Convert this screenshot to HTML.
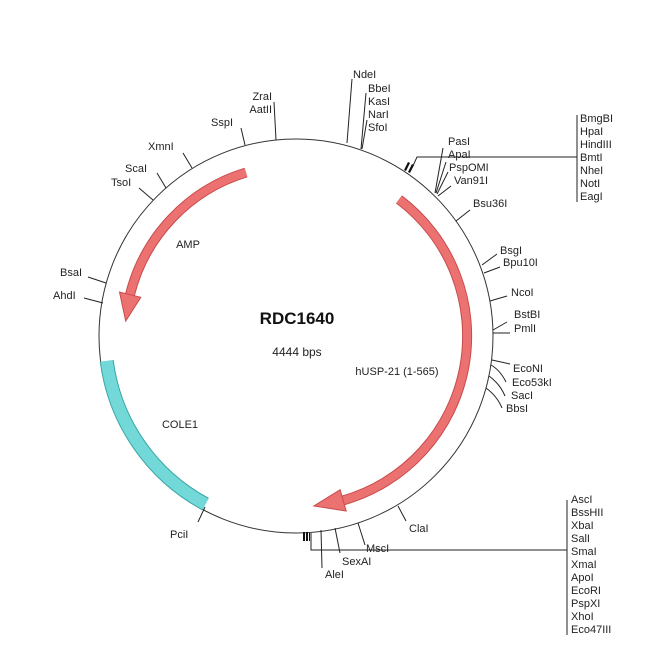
<!DOCTYPE html>
<html><head><meta charset="utf-8"><style>
body{margin:0;background:#fff}
svg{display:block}
text{font-family:"Liberation Sans",sans-serif;font-size:11px;fill:#222}
</style></head><body>
<svg width="650" height="650" viewBox="0 0 650 650">
<rect width="650" height="650" fill="#fff"/>
<circle cx="296" cy="336" r="197" fill="none" stroke="#333" stroke-width="1"/>
<path d="M205.5 504.1 A191 191 0 0 1 106.7 360.9" fill="none" stroke="#3aa7a7" stroke-width="14"/>
<path d="M205.5 504.1 A191 191 0 0 1 106.7 360.9" fill="none" stroke="#72d8d8" stroke-width="12"/>
<path d="M246 172.5 A171 171 0 0 0 130 294.6" fill="none" stroke="#c84b4b" stroke-width="10"/>
<path d="M246 172.5 A171 171 0 0 0 130 294.6" fill="none" stroke="#ec7272" stroke-width="8"/>
<polygon points="140.8,297.3 119.5,292 125.7,321.1" fill="#ec7272" stroke="#c84b4b" stroke-width="1"/>
<path d="M399 199.4 A171 171 0 0 1 343.2 500.4" fill="none" stroke="#c84b4b" stroke-width="10"/>
<path d="M399 199.4 A171 171 0 0 1 343.2 500.4" fill="none" stroke="#ec7272" stroke-width="8"/>
<polygon points="340.1,489.8 346.2,511 313.9,506" fill="#ec7272" stroke="#c84b4b" stroke-width="1"/>

<g stroke="#222" stroke-width="1" fill="none">
<line x1="347" y1="143" x2="352" y2="79"/>
<line x1="361" y1="149" x2="366" y2="93"/>
<line x1="362" y1="149" x2="367" y2="120"/>
<line x1="276" y1="140" x2="274" y2="102"/>
<line x1="245" y1="145" x2="241" y2="128"/>
<line x1="192" y1="168" x2="183" y2="153"/>
<line x1="166" y1="188" x2="157" y2="173"/>
<line x1="153" y1="200" x2="139" y2="188"/>
<line x1="106" y1="283" x2="88" y2="277"/>
<line x1="103" y1="303" x2="84" y2="298"/>
<line x1="205" y1="507" x2="198" y2="522"/>
<line x1="398" y1="506" x2="406" y2="521"/>
<line x1="358" y1="523" x2="365" y2="545"/>
<line x1="335" y1="528" x2="340" y2="553"/>
<line x1="321" y1="530" x2="322" y2="568"/>
<polyline points="311,533 311,550 567,550"/>
<line x1="567" y1="500" x2="567" y2="635"/>
<polyline points="412,168 417,157 577,157"/>
<line x1="577" y1="115" x2="577" y2="202"/>
<line x1="435" y1="193" x2="443" y2="148"/>
<line x1="436" y1="193" x2="446" y2="162"/>
<line x1="437" y1="194" x2="448" y2="172"/>
<line x1="438" y1="196" x2="451" y2="186"/>
<line x1="456" y1="221" x2="470" y2="210"/>
<line x1="482" y1="265" x2="497" y2="254"/>
<line x1="484" y1="273" x2="500" y2="267"/>
<line x1="490" y1="301" x2="507" y2="296"/>
<line x1="493" y1="330" x2="507" y2="322"/>
<line x1="493" y1="333" x2="510" y2="333"/>
<line x1="492" y1="360" x2="510" y2="364"/>
<path d="M491 365 Q500 370 506 382"/>
<path d="M489 376 Q500 384 505 396"/>
<path d="M486 388 Q497 396 502 408"/>
</g>
<g fill="#111">
<rect x="303" y="532" width="2" height="9"/><rect x="306" y="532" width="2" height="9"/><rect x="309" y="533" width="1" height="8"/>
<polygon points="404,170 408,162 410,163 406,171"/><polygon points="408,172 412,164 414,165 410,173"/>
</g>

<text x="353" y="78">NdeI</text>
<text x="368" y="92">BbeI</text><text x="368" y="105">KasI</text><text x="368" y="118">NarI</text><text x="368" y="131">SfoI</text>
<text x="272" y="100" text-anchor="end">ZraI</text><text x="272" y="113" text-anchor="end">AatII</text>
<text x="211" y="126">SspI</text>
<text x="148" y="150">XmnI</text>
<text x="125" y="172">ScaI</text>
<text x="111" y="186">TsoI</text>
<text x="60" y="276">BsaI</text>
<text x="53" y="299">AhdI</text>
<text x="170" y="538">PciI</text>
<text x="409" y="532">ClaI</text>
<text x="366" y="552">MscI</text>
<text x="342" y="565">SexAI</text>
<text x="325" y="578">AleI</text>
<g>
<text x="571" y="503">AscI</text><text x="571" y="516">BssHII</text><text x="571" y="529">XbaI</text><text x="571" y="542">SalI</text><text x="571" y="555">SmaI</text><text x="571" y="568">XmaI</text><text x="571" y="581">ApoI</text><text x="571" y="594">EcoRI</text><text x="571" y="607">PspXI</text><text x="571" y="620">XhoI</text><text x="571" y="633">Eco47III</text>
</g>
<g>
<text x="580" y="122">BmgBI</text><text x="580" y="135">HpaI</text><text x="580" y="148">HindIII</text><text x="580" y="161">BmtI</text><text x="580" y="174">NheI</text><text x="580" y="187">NotI</text><text x="580" y="200">EagI</text>
</g>
<text x="448" y="145">PasI</text><text x="448" y="158">ApaI</text><text x="449" y="171">PspOMI</text><text x="454" y="184">Van91I</text>
<text x="473" y="207">Bsu36I</text>
<text x="500" y="254">BsgI</text><text x="503" y="266">Bpu10I</text>
<text x="511" y="296">NcoI</text>
<text x="514" y="318">BstBI</text><text x="514" y="332">PmlI</text>
<text x="513" y="372">EcoNI</text><text x="512" y="386">Eco53kI</text><text x="511" y="399">SacI</text><text x="506" y="412">BbsI</text>

<text x="297" y="324" text-anchor="middle" style="font-size:17px;font-weight:bold;fill:#111">RDC1640</text>
<text x="297" y="356" text-anchor="middle" style="font-size:12px">4444 bps</text>
<text x="188" y="248" text-anchor="middle">AMP</text>
<text x="397" y="375" text-anchor="middle">hUSP-21 (1-565)</text>
<text x="180" y="428" text-anchor="middle">COLE1</text>
</svg>
</body></html>
